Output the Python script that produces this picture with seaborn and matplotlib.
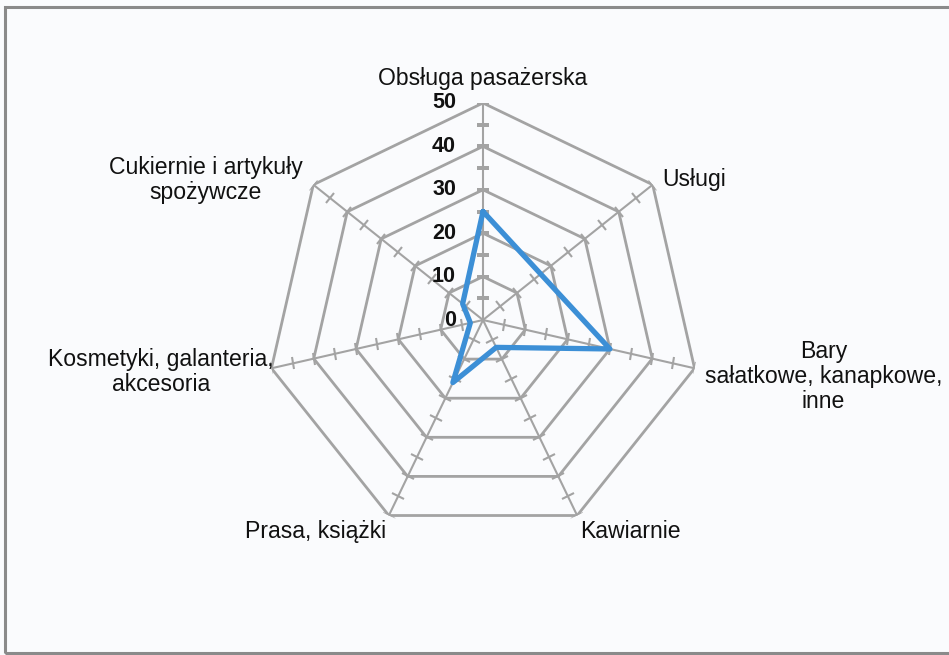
import numpy as np
import pandas as pd
import matplotlib.pyplot as plt
import matplotlib.patches as patches
from matplotlib.markers import MarkerStyle
from matplotlib.transforms import Affine2D
import seaborn as sns

# data
categories = ["Obsługa pasażerska", "Usługi", "Bary\nsałatkowe, kanapkowe,\ninne",
              "Kawiarnie", "Prasa, książki", "Kosmetyki, galanteria,\nakcesoria",
              "Cukiernie i artykuły\nspożywcze"]
values = [25, 17, 30, 7, 16, 3, 6]
rings = [10, 20, 30, 40, 50]
ring_labels = ["0", "10", "20", "30", "40", "50"]
minor_ticks = [5, 10, 15, 20, 25, 30, 35, 40, 45, 50]

sns.set_style('white')
plt.rcParams['font.family'] = ['Liberation Sans', 'DejaVu Sans']

fig = plt.figure(figsize=(9.49, 6.55), dpi=100)
fig.patch.set_facecolor('#fafbfd')
# outer frame
fig.patches.append(patches.Rectangle((5 / 949, 2 / 655), 1.1, 646 / 655, transform=fig.transFigure,
                                     fill=False, edgecolor='#8a8a8a', lw=2.2))

ax = fig.add_axes([266 / 949, 118 / 655, 434 / 949, 434 / 655], projection='polar')
ax.set_facecolor('none')
ax.set_theta_zero_location('N')
ax.set_theta_direction(-1)
ax.set_ylim(0, 50)
ax.grid(False)
ax.spines['polar'].set_visible(False)
ax.set_xticks([])
ax.set_yticks([])

n = len(categories)
theta = np.linspace(0, 2 * np.pi, n, endpoint=False)
theta_closed = np.append(theta, theta[0])
grid_col = '#a3a3a3'

# polygon rings
for r in rings:
    ax.plot(theta_closed, [r] * (n + 1), color=grid_col, lw=2.0, zorder=1)
# spokes + small ticks every 5
for t in theta:
    ax.plot([t, t], [0, 50], color=grid_col, lw=1.5, zorder=1)
    m = MarkerStyle('_', transform=Affine2D().rotate_deg(-np.degrees(t)))
    ax.plot([t] * len(minor_ticks), minor_ticks, ls='none', marker=m, ms=9, mew=1.5,
            color=grid_col, zorder=1)

# data series
df = pd.DataFrame({'theta': theta_closed, 'value': values + [values[0]]})
sns.lineplot(data=df, x='theta', y='value', sort=False, estimator=None, ax=ax,
             color='#3c8fd6', lw=3.8, zorder=3)
ax.set_xlabel('')
ax.set_ylabel('')

# radial labels on top axis
for i, lab in enumerate(ring_labels):
    ax.annotate(lab, xy=(0, i * 10), xytext=(-27, 0), textcoords='offset pixels',
                ha='right', va='center', fontsize=15.5, fontweight='bold', color='#111111')

# category labels
offsets = [(0, 24, 'center', 'center'), (10, 5, 'left', 'center'), (10, -8, 'left', 'center'),
           (3, -16, 'left', 'center'), (-3, -16, 'right', 'center'), (2, -4, 'right', 'center'),
           (-11, 5, 'right', 'center')]
for t, lab, (dx, dy, ha, va) in zip(theta, categories, offsets):
    ax.annotate(lab, xy=(t, 50), xytext=(dx, dy), textcoords='offset pixels',
                ha=ha, va=va, multialignment='center', fontsize=16.6, color='#111111',
                linespacing=1.12)

plt.savefig("out.png", dpi=100, facecolor=fig.get_facecolor())
